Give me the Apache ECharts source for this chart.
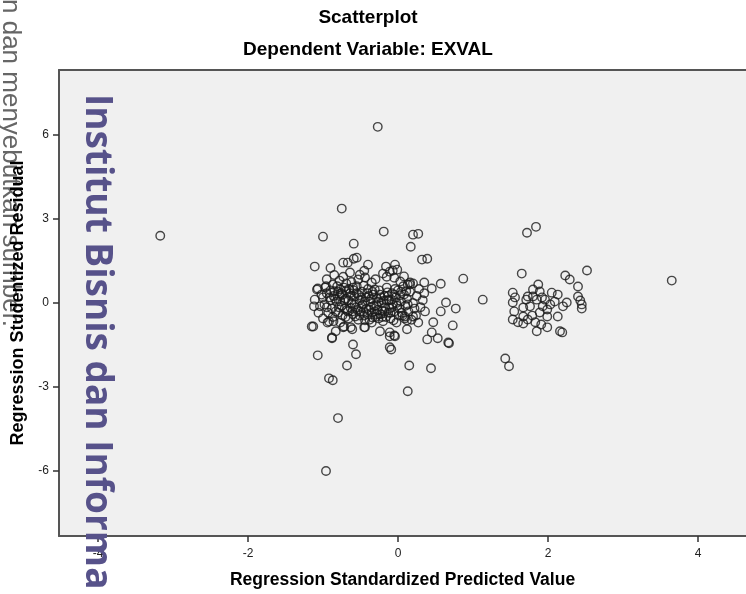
<!DOCTYPE html>
<html><head><meta charset="utf-8">
<script src="https://cdn.jsdelivr.net/npm/echarts@6/dist/echarts.min.js"></script>
<style>html,body{margin:0;padding:0;background:#fff;overflow:hidden}#c{width:746px;height:594px}</style>
</head><body><div id="c"></div>
<script>
const titleText = 'Scatterplot';
const subtitleText = 'Dependent Variable: EXVAL';
const xName = 'Regression Standardized Predicted Value';
const yName = 'Regression Studentized Residual';
const watermarkText = 'Institut Bisnis dan Informa';
const noteText = 'n dan menyebutkan sumber.';
const xTicks = [-4, -2, 0, 2, 4];
const yTicks = [-6, -3, 0, 3, 6];

const outliers = [
  [-3.17,2.40],[-0.27,6.29],[-0.75,3.37],[-1.00,2.37],[-0.19,2.55],[0.20,2.44],[0.27,2.47],
  [-0.59,2.12],[0.17,2.01],[-1.11,1.30],[-0.73,1.44],[-0.67,1.44],[-0.59,1.58],[-0.55,1.62],
  [-0.40,1.37],[0.32,1.55],[0.39,1.58],[-0.16,1.30],[-0.04,1.37],[-0.07,1.16],[-0.11,1.12],
  [-0.15,0.94],[0.87,0.87],[1.13,0.12],[3.65,0.80],[-1.15,-0.84],[-1.07,-1.87],[-0.92,-2.69],
  [-0.87,-2.76],[-0.80,-4.11],[-0.96,-6.00],[-0.68,-2.23],[-0.60,-1.48],[-0.56,-1.83],
  [-0.88,-1.26],[-0.83,-1.01],[-0.09,-1.66],[0.15,-2.23],[0.13,-3.15],[0.36,-0.30],[0.57,-0.30],
  [0.64,0.02],[0.77,-0.20],[0.44,-2.33],[0.39,-1.30],[0.53,-1.26],[0.47,-0.69],[0.67,-1.41],
  [0.45,-1.05],[0.35,0.73],[0.57,0.69],[0.45,0.52],[-0.05,-1.16],[-0.11,-1.05],[0.73,-0.80],
  [0.68,-1.44],[-1.12,-0.12],[-1.07,0.52],[-0.92,-0.66]
];

const mainCluster = [
  [-0.73,0.94],[-0.64,1.09],[-0.51,1.01],[-0.53,0.84],[-0.44,0.91],[-0.01,1.19],[-0.35,0.73],
  [0.03,0.77],[0.13,0.66],[0.16,0.73],[-1.08,0.48],[-0.97,0.55],[-0.87,0.66],[-0.77,0.48],
  [-1.11,0.12],[-1.00,0.20],[-1.04,-0.12],[-1.13,-0.84],[-0.88,-1.23],[-0.73,-0.87],[-0.61,-0.94],
  [-0.44,-0.87],[-0.24,-1.01],[-0.11,-1.19],[-0.04,-1.19],[-0.11,-1.58],[0.09,-0.48],[0.12,-0.94],
  [0.20,-0.48],[0.12,-0.62],[-0.45,-0.87],[-0.72,-0.84],[-0.63,-0.87],[0.16,0.66],
  [-0.95,0.35],[-0.90,0.10],[-0.88,-0.20],[-0.85,0.42],[-0.82,0.05],[-0.80,-0.35],[-0.78,0.25],
  [-0.75,-0.10],[-0.72,0.55],[-0.70,0.15],[-0.68,-0.25],[-0.66,-0.55],[-0.64,0.35],[-0.62,0.00],
  [-0.60,-0.40],[-0.58,0.22],[-0.56,-0.15],[-0.55,0.60],[-0.53,-0.60],[-0.51,0.10],[-0.50,-0.30],
  [-0.48,0.40],[-0.47,-0.05],[-0.45,-0.45],[-0.43,0.20],[-0.42,-0.20],[-0.40,0.50],[-0.38,-0.60],
  [-0.37,0.05],[-0.35,-0.35],[-0.33,0.30],[-0.32,-0.10],[-0.30,-0.50],[-0.28,0.15],[-0.27,-0.25],
  [-0.25,0.45],[-0.23,-0.40],[-0.22,0.00],[-0.20,-0.65],[-0.18,0.25],[-0.17,-0.15],[-0.15,0.55],
  [-0.13,-0.35],[-0.12,0.10],[-0.10,-0.55],[-0.08,0.35],[-0.07,-0.05],[-0.05,-0.30],[-0.03,0.20],
  [-0.02,-0.70],[0.00,0.45],[0.02,-0.20],[0.04,0.05],[0.06,-0.45],[0.08,0.30],[0.10,-0.10],
  [0.12,0.15],[0.14,-0.30],[0.16,0.40],[0.20,0.00],[0.22,-0.20],[0.25,0.25],
  [-0.63,-0.18],[-0.59,0.45],[-0.57,-0.48],[-0.52,0.28],[-0.49,-0.12],[-0.46,0.62],[-0.44,-0.62],
  [-0.41,0.35],[-0.39,-0.25],[-0.36,0.15],[-0.34,-0.52],[-0.31,0.48],[-0.29,-0.08],[-0.26,-0.55],
  [-0.24,0.30],[-0.21,-0.28],[-0.19,0.08],[-0.16,-0.50],[-0.14,0.38],[-0.11,-0.20],[-0.09,0.12],
  [-0.06,-0.62],[-0.04,0.50],[-0.01,-0.10],[0.03,0.28],[0.05,-0.35],[0.07,0.60],[0.09,-0.55],
  [0.11,0.42],[0.13,-0.05],
  [-1.02,0.30],[-0.98,-0.05],[-0.96,0.60],[-0.93,-0.35],[-0.91,0.20],[-0.87,-0.50],[-0.84,0.15],
  [-0.81,0.60],[-0.79,-0.15],[-0.76,0.35],[-0.74,-0.45],[-0.71,0.10],[-0.69,0.70],[-0.67,-0.30],
  [-0.65,0.50],[-1.06,-0.35],[-1.00,-0.55],[-0.94,-0.70],[-0.86,-0.65],[-0.77,-0.70],
  [0.18,-0.60],[0.24,-0.45],[0.28,0.50],[0.30,-0.15],[0.33,0.10],[0.27,-0.70],[0.35,0.35],[0.20,0.70],
  [-0.95,0.85],[-0.85,1.00],[-0.78,0.80],[-0.62,0.75],[-0.30,0.85],[-0.20,1.05],[-0.05,0.90],
  [0.08,0.95],[-0.45,1.15],[-0.90,1.25],
  [-0.95,-0.15],[-0.90,0.45],[-0.86,0.25],[-0.83,-0.30],[-0.80,0.40],[-0.77,0.05],[-0.74,0.30],
  [-0.71,-0.20],[-0.69,0.45],[-0.66,0.10],[-0.63,0.25],[-0.61,-0.30],[-0.58,-0.05],[-0.55,0.35],
  [-0.54,-0.25],[-0.51,-0.45],[-0.49,0.20],[-0.46,-0.30],[-0.44,0.05],[-0.41,-0.40],[-0.39,0.25],
  [-0.36,-0.15],[-0.34,0.40],[-0.31,-0.30],[-0.28,-0.40],[-0.26,0.05],[-0.23,0.20],[-0.21,-0.50],
  [-0.18,-0.30],[-0.15,0.10],[-0.13,0.25],[-0.10,-0.35],[-0.08,-0.15],[-0.05,0.30],[-0.02,0.00],
  [0.01,-0.45],[0.04,0.40],[-0.70,-0.50],[-0.60,0.55],[-0.35,-0.70]
];

const rightCluster = [
  [1.72,2.51],[1.84,2.72],[1.65,1.05],[1.87,0.66],[2.23,0.98],[2.29,0.84],[2.52,1.16],[2.40,0.59],
  [2.40,0.23],[2.43,0.09],[2.45,-0.05],[2.45,-0.20],[1.53,0.37],[1.56,0.20],[1.53,0.02],[1.55,-0.30],
  [1.53,-0.59],[1.60,-0.69],[1.67,-0.16],[1.67,-0.48],[1.67,-0.73],[1.73,0.23],[1.80,0.23],
  [1.76,-0.12],[1.80,0.48],[1.85,0.12],[1.92,0.20],[1.93,-0.12],[1.89,-0.34],[1.99,-0.23],
  [1.99,-0.48],[1.99,-0.87],[1.85,-1.01],[1.83,-0.69],[2.05,0.37],[2.13,0.30],[2.09,0.05],
  [2.20,-0.12],[2.25,0.02],[2.13,-0.48],[2.16,-1.01],[2.19,-1.05],[1.43,-1.98],[1.48,-2.26],
  [1.71,0.12],[1.89,0.41],[1.96,0.12],[1.79,-0.45],[1.73,-0.59],[2.03,-0.05],[1.91,-0.77]
];

const points = outliers.concat(mainCluster, rightCluster);
const font = 'Liberation Sans, Arial, sans-serif';
const frameLine = {show: true, onZero: false, lineStyle: {color: '#555', width: 2}};

const chart = echarts.init(document.getElementById('c'), null, {renderer: 'canvas'});
chart.setOption({
  animation: false,
  grid: {left: 59, top: 70, right: 0, bottom: 57, show: true,
         backgroundColor: '#f0f0f0', borderWidth: 0},
  xAxis: [{
    type: 'value', min: -4.52, max: 4.64, position: 'bottom',
    splitLine: {show: false},
    axisLine: frameLine,
    axisTick: {show: true, customValues: xTicks, length: 6, lineStyle: {color: '#333', width: 1.5}},
    axisLabel: {customValues: xTicks, margin: 12, color: '#222', fontSize: 12, fontFamily: font},
    name: xName, nameLocation: 'middle', nameGap: 35,
    nameTextStyle: {fontFamily: font, fontWeight: 'bold', fontSize: 17.5, color: '#000'}
  }, {
    type: 'value', min: -4.52, max: 4.64, position: 'top',
    splitLine: {show: false}, axisLine: frameLine,
    axisTick: {show: false}, axisLabel: {show: false}
  }],
  yAxis: {
    type: 'value', min: -8.32, max: 8.32,
    splitLine: {show: false},
    axisLine: frameLine,
    axisTick: {show: true, customValues: yTicks, length: 6, lineStyle: {color: '#333', width: 1.5}},
    axisLabel: {customValues: yTicks, margin: 10, color: '#222', fontSize: 12, fontFamily: font},
    name: yName, nameLocation: 'middle', nameGap: 31,
    nameTextStyle: {fontFamily: font, fontWeight: 'bold', fontSize: 18, color: '#000'}
  },
  series: [{
    type: 'scatter',
    xAxisIndex: 0,
    data: points,
    symbol: 'circle',
    symbolSize: 8.5,
    itemStyle: {color: 'rgba(0,0,0,0)', borderColor: '#1a1a1a', borderWidth: 1.4},
    emphasis: {disabled: true}
  }],
  graphic: [
    {type: 'text', x: 368, y: 18, z: 10,
     style: {text: titleText, font: 'bold 19px ' + font, fill: '#000', textAlign: 'center', textVerticalAlign: 'middle'}},
    {type: 'text', x: 368, y: 50, z: 10,
     style: {text: subtitleText, font: 'bold 19px ' + font, fill: '#000', textAlign: 'center', textVerticalAlign: 'middle'}},
    {type: 'text', x: 10, y: -1, rotation: -Math.PI / 2, z: -10,
     style: {text: noteText, font: '26px ' + font, fill: '#666', textAlign: 'left', textVerticalAlign: 'middle'}},
    {type: 'text', x: 97, y: 94, rotation: -Math.PI / 2, z: 100,
     style: {text: watermarkText, font: 'bold 37px "Open Sans", sans-serif', fill: '#57528a', textAlign: 'left', textVerticalAlign: 'middle'}}
  ]
});
</script>
</body></html>
